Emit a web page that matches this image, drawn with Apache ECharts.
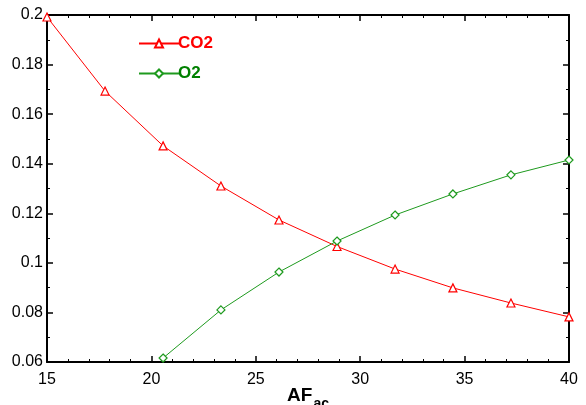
<!DOCTYPE html>
<html><head><meta charset="utf-8">
<script src="https://cdn.jsdelivr.net/npm/echarts@6/dist/echarts.min.js"></script>
<style>html,body{margin:0;padding:0;background:#fff}#c{width:586px;height:405px}</style>
</head><body><div id="c"></div>
<script>
const xValues = [15, 17.78, 20.56, 23.33, 26.11, 28.89, 31.67, 34.44, 37.22, 40];
const co2 = [0.1992, 0.1693, 0.1472, 0.1310, 0.1173, 0.1066, 0.0975, 0.0899, 0.0838, 0.0782];
const o2 = [null, null, 0.0616, 0.0810, 0.0963, 0.1088, 0.1193, 0.1278, 0.1355, 0.1415];
const seriesNames = ['CO2', 'O2'];
const xTicks = [15, 20, 25, 30, 35, 40];
const yTicks = [0.06, 0.08, 0.1, 0.12, 0.14, 0.16, 0.18, 0.2];

const pair = (ys) => xValues.map((x, i) => [x, ys[i]]);
const font = 'Liberation Sans, Arial, sans-serif';
const axisCommon = {
  axisLine: { show: true, onZero: false, lineStyle: { color: '#000', width: 2 } },
  axisTick: { show: true, inside: true, length: 6, lineStyle: { color: '#000', width: 1.5 } },
  minorTick: { show: true, length: 3, lineStyle: { color: '#000', width: 1 } },
  splitLine: { show: false }
};
const chart = echarts.init(document.getElementById('c'));
chart.setOption({
  animation: false,
  grid: { left: 47, right: 17, top: 15, bottom: 43, containLabel: false, outerBoundsMode: 'none' },
  legend: {
    orient: 'vertical', left: 133, top: 30, itemWidth: 40, itemHeight: 10, itemGap: 13,
    textStyle: { fontFamily: font, fontWeight: 'bold', fontSize: 17, padding: [0, 0, 0, -6] },
    data: [
      { name: seriesNames[0], textStyle: { color: '#ff0000' } },
      { name: seriesNames[1], textStyle: { color: '#008000' } }
    ]
  },
  xAxis: [
    Object.assign({}, axisCommon, {
      type: 'value', min: xTicks[0], max: xTicks[xTicks.length - 1], interval: 5,
      minorTick: Object.assign({}, axisCommon.minorTick, { splitNumber: 5 }),
      axisLabel: { color: '#000', fontSize: 16, fontFamily: font, margin: 10 },
      name: '{a|AF}{b|ac}', nameLocation: 'middle', nameGap: 24, nameMoveOverlap: false,
      nameTextStyle: { rich: {
        a: { fontSize: 19, fontWeight: 'bold', color: '#000', fontFamily: font, verticalAlign: 'bottom' },
        b: { fontSize: 14, fontWeight: 'bold', color: '#000', fontFamily: font, verticalAlign: 'bottom', padding: [0, 0, -6, 1] }
      } }
    }),
    Object.assign({}, axisCommon, {
      type: 'value', position: 'top', min: 15, max: 40, interval: 5,
      minorTick: Object.assign({}, axisCommon.minorTick, { splitNumber: 5 }),
      axisLabel: { show: false }
    })
  ],
  yAxis: [
    Object.assign({}, axisCommon, {
      type: 'value', min: yTicks[0], max: yTicks[yTicks.length - 1], interval: 0.02,
      minorTick: Object.assign({}, axisCommon.minorTick, { splitNumber: 2 }),
      axisLabel: { color: '#000', fontSize: 16, fontFamily: font, margin: 4, formatter: v => String(+v.toFixed(2)) }
    }),
    Object.assign({}, axisCommon, {
      type: 'value', position: 'right', min: 0.06, max: 0.2, interval: 0.02,
      minorTick: Object.assign({}, axisCommon.minorTick, { splitNumber: 2 }),
      axisLabel: { show: false }
    })
  ],
  series: [
    { name: seriesNames[0], type: 'line', data: pair(co2), symbol: 'triangle', symbolSize: 8,
      itemStyle: { color: '#fff', borderColor: '#ff0000', borderWidth: 1.2 },
      lineStyle: { color: '#ff0000', width: 1 }, clip: true },
    { name: seriesNames[1], type: 'line', data: pair(o2), symbol: 'diamond', symbolSize: 8,
      itemStyle: { color: '#fff', borderColor: '#1e9a1e', borderWidth: 1.2 },
      lineStyle: { color: '#1e9a1e', width: 1 }, clip: true, connectNulls: false }
  ]
});
</script></body></html>
